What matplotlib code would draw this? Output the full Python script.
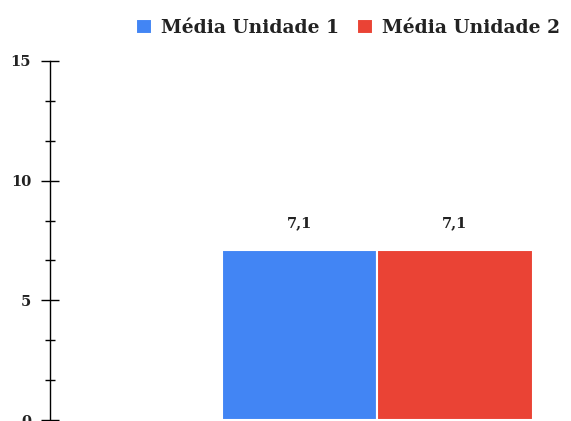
import matplotlib
matplotlib.use("Agg")
import matplotlib.pyplot as plt
from matplotlib.ticker import MultipleLocator

# data
series = ["Média Unidade 1", "Média Unidade 2"]
values = [7.1, 7.1]
labels = ["7,1", "7,1"]
colors = ["#4285F4", "#EA4335"]
y_ticks = [0, 5, 10, 15]

plt.rcParams["font.family"] = ["DejaVu Serif"]
plt.rcParams["font.weight"] = "bold"

fig = plt.figure(figsize=(5.71, 4.21), dpi=100)
ax = fig.add_axes([50 / 571, 1 / 421, 521 / 571, 359 / 421])

width = 0.4
offsets = [-width / 2, width / 2]
for name, val, lab, col, off in zip(series, values, labels, colors, offsets):
    ax.bar(off, val, width=width, color=col, edgecolor="white", linewidth=1.5,
           label=name, zorder=2)
    ax.text(off, val + 0.85, lab, ha="center", va="bottom", fontsize=10.5,
            fontweight="bold", color="#222222")

ax.set_xlim(-326 / 387.5, 193 / 387.5)
ax.set_ylim(0, 15)
ax.set_yticks(y_ticks)
ax.yaxis.set_minor_locator(MultipleLocator(5 / 3))
ax.tick_params(axis="y", which="major", direction="inout", length=13, width=1,
               pad=7, labelsize=10.5, labelcolor="#222222")
ax.tick_params(axis="y", which="minor", direction="inout", length=7, width=1)
ax.set_xticks([])
for s in ["top", "right", "bottom"]:
    ax.spines[s].set_visible(False)
ax.spines["left"].set_linewidth(1)

leg = fig.legend(loc="upper right", bbox_to_anchor=(1.01, 0.995), ncol=2,
                 frameon=False, fontsize=13.5, handlelength=0.85, handleheight=0.85,
                 handletextpad=0.45, columnspacing=1.0)
for t in leg.get_texts():
    t.set_fontweight("bold")
    t.set_color("#222222")

fig.savefig("out.png", dpi=100)
